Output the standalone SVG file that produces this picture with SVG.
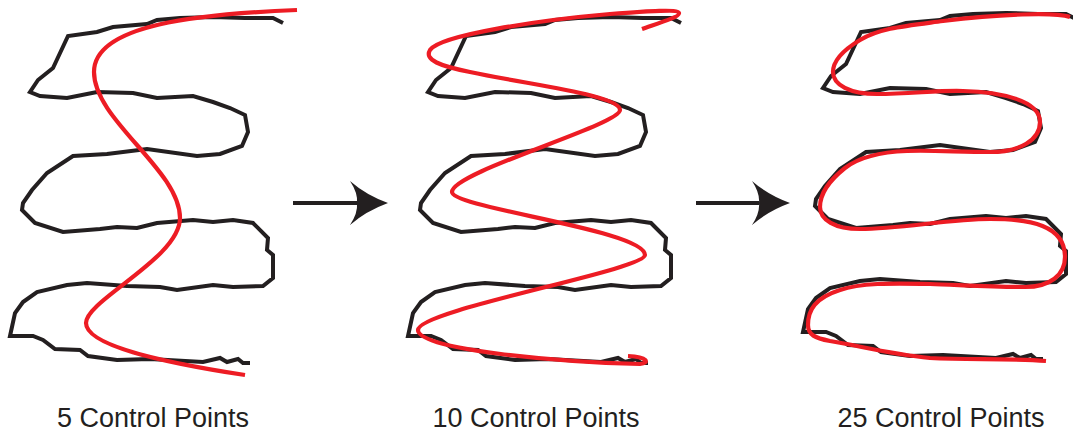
<svg xmlns="http://www.w3.org/2000/svg" xmlns:xlink="http://www.w3.org/1999/xlink" width="1073" height="435" viewBox="0 0 1073 435">
  <style>
    .sketch { fill: none; stroke: #231F20; stroke-width: 4; stroke-linejoin: miter; stroke-miterlimit: 4; stroke-linecap: butt; }
    .fit { fill: none; stroke: #ED1C24; stroke-width: 4.2; stroke-linecap: butt; stroke-linejoin: round; }
    .shaft { fill: none; stroke: #231F20; stroke-width: 4.2; }
    .label { font-family: "Liberation Sans", Arial, sans-serif; font-size: 27px; fill: #231F20; text-anchor: middle; }
  </style>
  <defs>
    <!-- hand-drawn input stroke, reused in every panel -->
    <path id="sketch" class="sketch" d="M283,23 L273,18 L245,18 L213,17 L180,18 L157,20 L147,24 L113,27 L97,32 L68,36 L53,68 L38,80 L30,92 L40,96 L67,98 L97,92 L133,93 L157,98 L193,96 L213,102 L230,108 L245,115 L248,132 L242,146 L220,154 L197,156 L147,149 L107,154 L73,156 L47,173 L32,190 L23,203 L22,210 L35,223 L63,232 L100,229 L117,227 L137,228 L157,223 L193,220 L213,222 L233,220 L253,223 L268,238 L267,250 L273,255 L273,278 L263,286 L233,287 L213,285 L177,290 L160,287 L127,286 L87,283 L67,285 L37,292 L23,302 L15,313 L10,336 L33,336 L43,340 L55,349 L80,350 L88,356 L117,360 L150,359 L203,362 L220,358 L227,362 L238,359 L243,363 L250,363"/>
    <marker id="arrowhead" markerUnits="userSpaceOnUse" markerWidth="40" markerHeight="46" viewBox="0 0 40 46" refX="7" refY="22" orient="auto">
      <path d="M0,0 Q16,14 38,22 Q16,30 0,44 Q8,32 7,22 Q8,12 0,0 Z" fill="#231F20"/>
    </marker>
  </defs>

  <g id="panel-5">
    <use xlink:href="#sketch"/>
    <path class="fit" d="M297,10 C200,14 94,24 94,72 C94,120 180,170 180,218 C180,258 86,300 86,323 C86,345 160,362 245,375"/>
    <text class="label" x="153" y="427">5 Control Points</text>
  </g>

  <g id="panel-10">
    <use xlink:href="#sketch" transform="translate(398,0)"/>
    <path class="fit" d="M642,29 C656,24 680,17 679,13 C678,9 650,11 610,14 C540,20 440,35 430,50 C424,60 440,66 470,72 C530,85 620,95 620,110 C620,125 452,172 452,192 C452,208 645,230 645,255 C645,270 418,310 418,330 C418,350 560,362 640,364 C650,363 648,357 628,356"/>
    <text class="label" x="536" y="427">10 Control Points</text>
  </g>

  <g id="panel-25">
    <use xlink:href="#sketch" transform="translate(793,-4)"/>
    <path class="fit" d="M1070,17 C1055,12 1000,14 943,21 C905,26 880,28 860,40 C845,49 833,60 833,72 C833,85 850,94 877,94 C910,94 940,90 963,91 C1000,92 1040,100 1040,122 C1040,140 1020,152 990,152 C960,152 930,150 907,151 C880,152 858,158 845,168 C830,180 820,192 820,207 C820,220 835,229 860,229 C900,229 950,219 990,219 C1030,219 1065,225 1065,257 C1065,275 1050,287 1025,287 C995,287 960,285 930,284 C890,283 860,283 840,290 C815,298 808,310 808,325 C808,335 815,338 830,341 C860,346 890,354 930,358 C970,360 1010,358 1046,361"/>
    <text class="label" x="941" y="427">25 Control Points</text>
  </g>

  <g id="connectors">
    <line class="shaft" x1="293" y1="203" x2="357" y2="203" marker-end="url(#arrowhead)"/>
    <line class="shaft" x1="696" y1="203" x2="759" y2="203" marker-end="url(#arrowhead)"/>
  </g>
</svg>
